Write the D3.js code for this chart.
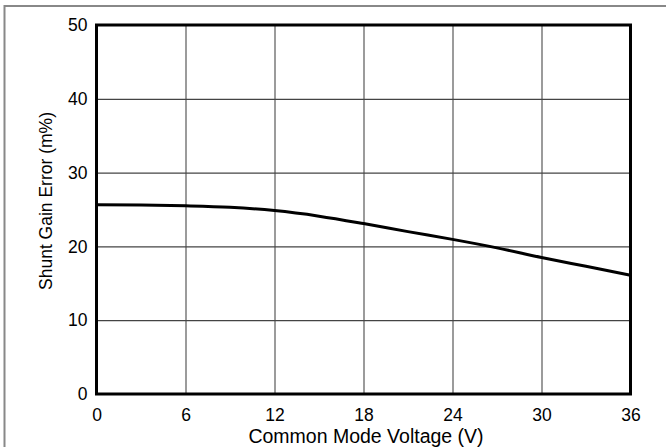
<!DOCTYPE html>
<html>
<head>
<meta charset="utf-8">
<title>Shunt Gain Error vs Common Mode Voltage</title>
<script src="https://d3js.org/d3.v7.min.js"></script>
<style>
  html, body { margin: 0; padding: 0; background: #fff; }
  svg { display: block; font-family: "Liberation Sans", Arial, sans-serif; }
</style>
</head>
<body>
<script>
// values
var voltage = [0, 3, 6, 9, 12, 15, 18, 21, 24, 27, 30, 33, 36];
var gainError = [25.65, 25.6, 25.5, 25.3, 24.85, 24.1, 23.1, 22.0, 20.95, 19.8, 18.5, 17.3, 16.1];

var xTicks = [0, 6, 12, 18, 24, 30, 36];
var yTicks = [0, 10, 20, 30, 40, 50];

var W = 666, H = 447;
var margin = {top: 25, right: 35.5, bottom: 53, left: 96.5};
var width = W - margin.left - margin.right,
    height = H - margin.top - margin.bottom;

var svg = d3.select("body").append("svg")
  .attr("width", W)
  .attr("height", H);

// outer gray border (cropped at right/bottom in the reference)
svg.append("rect")
  .attr("x", 4.5).attr("y", 6)
  .attr("width", W).attr("height", H)
  .attr("fill", "none")
  .attr("stroke", "#888")
  .attr("stroke-width", 2);

var g = svg.append("g")
  .attr("transform", "translate(" + margin.left + "," + margin.top + ")");

var x = d3.scaleLinear().domain([0, 36]).range([0, width]);
var y = d3.scaleLinear().domain([0, 50]).range([height, 0]);

// vertical grid
g.append("g")
  .attr("transform", "translate(0," + height + ")")
  .call(d3.axisBottom(x).tickValues(xTicks).tickSize(-height).tickFormat(""))
  .call(function(a) {
    a.select(".domain").remove();
    a.selectAll("line").attr("stroke", "#7a7a7a").attr("stroke-width", 1.5);
  });

// horizontal grid
g.append("g")
  .call(d3.axisLeft(y).tickValues(yTicks).tickSize(-width).tickFormat(""))
  .call(function(a) {
    a.select(".domain").remove();
    a.selectAll("line").attr("stroke", "#444").attr("stroke-width", 1.2);
  });

// tick labels
var xAxis = g.append("g")
  .attr("transform", "translate(0," + height + ")")
  .call(d3.axisBottom(x).tickValues(xTicks).tickSize(0).tickPadding(15));
xAxis.select(".domain").remove();
xAxis.selectAll("text")
  .attr("font-size", 17.5)
  .attr("font-family", "Liberation Sans, Arial, sans-serif")
  .attr("fill", "#000");

var yAxis = g.append("g")
  .call(d3.axisLeft(y).tickValues(yTicks).tickSize(0).tickPadding(9));
yAxis.select(".domain").remove();
yAxis.selectAll("text")
  .attr("font-size", 17.5)
  .attr("font-family", "Liberation Sans, Arial, sans-serif")
  .attr("fill", "#000");

// frame
g.append("rect")
  .attr("width", width)
  .attr("height", height)
  .attr("fill", "none")
  .attr("stroke", "#000")
  .attr("stroke-width", 3);

// curve
var line = d3.line()
  .x(function(d, i) { return x(voltage[i]); })
  .y(function(d) { return y(d); })
  .curve(d3.curveMonotoneX);

g.append("path")
  .datum(gainError)
  .attr("d", line)
  .attr("fill", "none")
  .attr("stroke", "#000")
  .attr("stroke-width", 3);

// axis titles
svg.append("text")
  .attr("x", 366)
  .attr("y", 443)
  .attr("text-anchor", "middle")
  .attr("font-size", 19.5)
  .text("Common Mode Voltage (V)");

svg.append("text")
  .attr("transform", "translate(52,201) rotate(-90)")
  .attr("text-anchor", "middle")
  .attr("font-size", 17.5)
  .text("Shunt Gain Error (m%)");
</script>
</body>
</html>
